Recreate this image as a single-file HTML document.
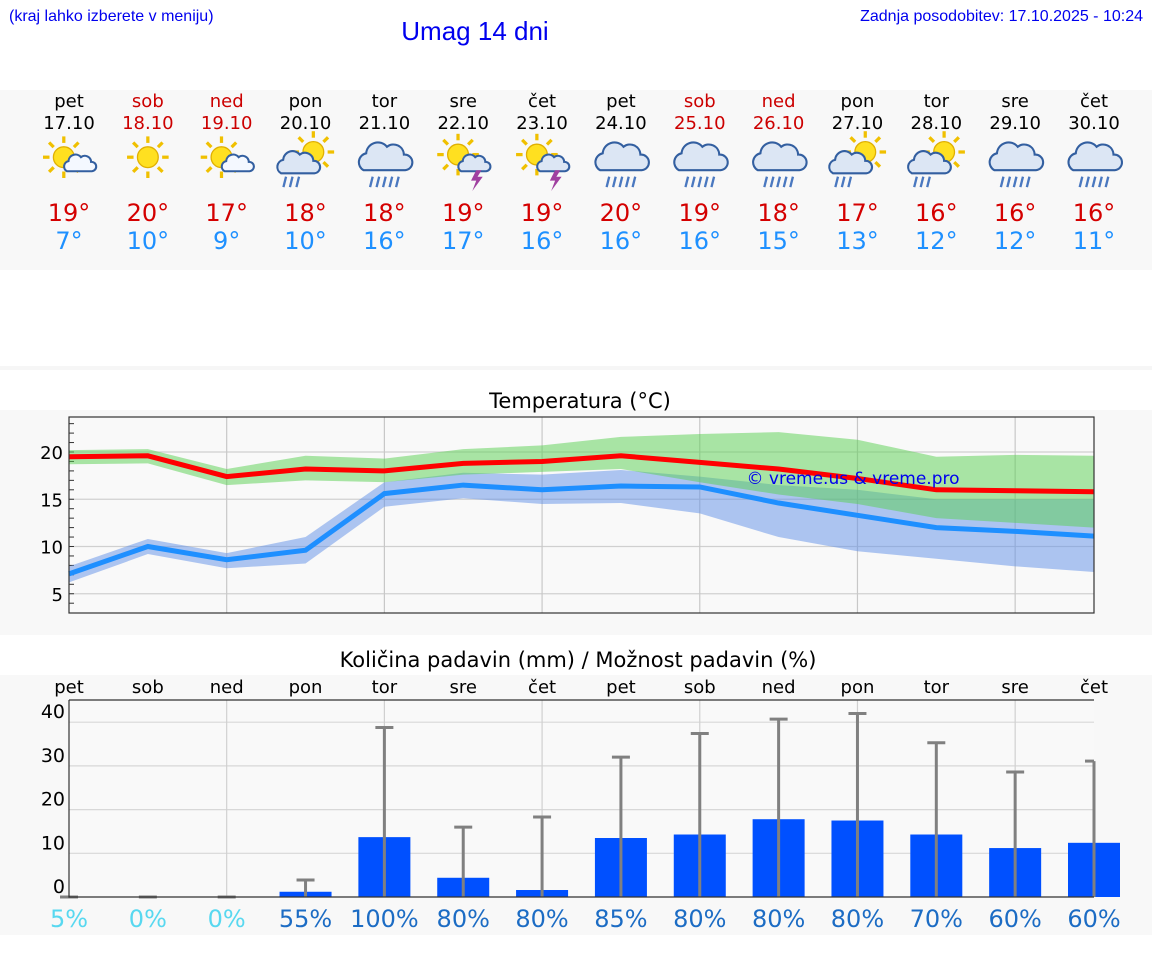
<!DOCTYPE html>
<html><head><meta charset="utf-8"><style>
body{margin:0;background:#fff;width:1152px;height:975px;overflow:hidden;font-family:"DejaVu Sans","Liberation Sans",sans-serif}
svg{display:block}
</style></head><body>
<svg id="s" width="1152" height="975" xmlns="http://www.w3.org/2000/svg">
<rect x="0" y="90" width="1152" height="180" fill="#f8f8f8"/>
<rect x="0" y="366" width="1152" height="4" fill="#f6f6f6"/>
<rect x="0" y="410" width="1152" height="225" fill="#f8f8f8"/>
<rect x="0" y="675" width="1152" height="260" fill="#f8f8f8"/>
<text x="9" y="21" font-family="Liberation Sans, sans-serif" font-size="16" fill="#0000ee">(kraj lahko izberete v meniju)</text>
<text x="475" y="40" text-anchor="middle" font-family="Liberation Sans, sans-serif" font-size="26" fill="#0000ee">Umag 14 dni</text>
<text x="1143" y="21" text-anchor="end" font-family="Liberation Sans, sans-serif" font-size="16" fill="#0000ee">Zadnja posodobitev: 17.10.2025 - 10:24</text>
<text x="580" y="408" text-anchor="middle" font-size="21" fill="#000">Temperatura (°C)</text>
<text x="578" y="667" text-anchor="middle" font-size="21" fill="#000">Količina padavin (mm) / Možnost padavin (%)</text>
<g id="g"></g>
</svg>
<script>
const days=["pet","sob","ned","pon","tor","sre","čet","pet","sob","ned","pon","tor","sre","čet"];
const dates=["17.10","18.10","19.10","20.10","21.10","22.10","23.10","24.10","25.10","26.10","27.10","28.10","29.10","30.10"];
const weekend=[0,1,1,0,0,0,0,0,1,1,0,0,0,0];
const icons=["sunc","sun","sunc","sunrain","rain","thunder","thunder","rain","rain","rain","sunrain","sunrain","rain","rain"];
const tMax=[19,20,17,18,18,19,19,20,19,18,17,16,16,16];
const tMin=[7,10,9,10,16,17,16,16,16,15,13,12,12,11];
const maxLine=[19.5,19.6,17.4,18.2,18.0,18.8,19.0,19.6,18.9,18.2,17.2,16.0,15.9,15.8];
const minLine=[7.1,10.0,8.6,9.6,15.6,16.5,16.0,16.4,16.3,14.6,13.3,12.0,11.6,11.1];
const maxHi=[20.2,20.3,18.2,19.6,19.3,20.3,20.7,21.6,21.9,22.1,21.3,19.5,19.7,19.6];
const maxLo=[18.7,18.8,16.5,17.0,16.8,17.6,17.9,18.2,16.8,15.5,14.5,13.0,12.5,12.0];
const minHi=[7.9,10.8,9.3,11.0,16.8,17.8,17.6,18.1,17.4,16.5,16.0,15.0,15.0,15.0];
const minLo=[6.2,9.2,7.7,8.2,14.2,15.1,14.5,14.6,13.5,11.0,9.5,8.7,7.9,7.3];
const tempTicks=[5,10,15,20];
const rain=[0,0,0,1.2,13.7,4.4,1.6,13.5,14.3,17.8,17.5,14.3,11.2,12.4];
const rainMax=[0,0,0,3.9,38.8,16,18.3,32,37.4,40.7,42,35.3,28.6,31.1];
const prob=[5,0,0,55,100,80,80,85,80,80,80,70,60,60];
const rainTicks=[0,10,20,30,40];

const NS="http://www.w3.org/2000/svg";const G=document.getElementById('g');
function el(t,a,p){const e=document.createElementNS(NS,t);for(const k in a)e.setAttribute(k,a[k]);(p||G).appendChild(e);return e;}
const X=i=>69+i*(1094-69)/13;
const TY=t=>452-(t-20)*9.45;
const RY=v=>897-v*4.37;
days.forEach((d,i)=>{const x=X(i);const c=weekend[i]?"#cc0000":"#000";
let e=el('text',{x:x,y:107,'text-anchor':'middle','font-size':18,fill:c});e.textContent=d;

e=el('text',{x:x,y:129,'text-anchor':'middle','font-size':18,fill:c});e.textContent=dates[i];

e=el('text',{x:x,y:221,'text-anchor':'middle','font-size':24,fill:"#d40000"});e.textContent=tMax[i]+"°";

e=el('text',{x:x,y:249,'text-anchor':'middle','font-size':24,fill:"#1e90ff"});e.textContent=tMin[i]+"°";

const g=el('g',{transform:`translate(${x},165) scale(1.3)`});

const ic=icons[i];
function sun(cx,cy,r){for(let k=0;k<8;k++){const a=k*Math.PI/4;el('line',{x1:cx+Math.cos(a)*(r+3),y1:cy+Math.sin(a)*(r+3),x2:cx+Math.cos(a)*(r+8),y2:cy+Math.sin(a)*(r+8),stroke:"#f0c000",'stroke-width':2.5},g);}el('circle',{cx:cx,cy:cy,r:r,fill:"#ffe020",stroke:"#e0b000",'stroke-width':1},g);}
function cloud(cx,cy,s,fill){const p=`M${cx-16*s},${cy+8*s} a${7*s},${7*s} 0 0 1 ${2*s},-${13*s} a${9*s},${9*s} 0 0 1 ${16*s},-${5*s} a${8*s},${8*s} 0 0 1 ${13*s},${6*s} a${6*s},${6*s} 0 0 1 ${1*s},${12*s} z`;el('path',{d:p,fill:fill,stroke:"#335fa0",'stroke-width':1.6},g);}
function drops(cx,cy,n){for(let k=0;k<n;k++)el('line',{x1:cx-9+k*5,y1:cy,x2:cx-11+k*5,y2:cy+8,stroke:"#4a78c0",'stroke-width':1.8},g);}
if(ic=="sun")sun(0,-6,8);
else if(ic=="sunc"){sun(-4,-6,8);cloud(8,0,0.6,"#f4f8ff");}
else if(ic=="sunrain"){sun(6,-10,8);cloud(-6,0,0.8,"#dce6f4");drops(-6,9,3);}
else if(ic=="thunder"){sun(-4,-8,8);cloud(8,0,0.6,"#dce6f4");el('path',{d:"M10,4 l-4,8 h4 l-3,8 l8,-11 h-4 l3,-5z",fill:"#a040a0"},g);}
else {cloud(0,-4,1.0,"#dce6f4");drops(0,9,5);}
});
el('rect',{x:69,y:417,width:1025,height:196,fill:"#f9f9f9"});
tempTicks.forEach(t=>{el('line',{x1:69,x2:1094,y1:TY(t),y2:TY(t),stroke:"#d0d0d0",'stroke-width':1.2});
const e=el('text',{x:63,y:TY(t)+7,'text-anchor':'end','font-size':18,fill:"#000"});e.textContent=t;
});
for(let t=4;t<=23;t++)el('line',{x1:69,x2:74,y1:TY(t),y2:TY(t),stroke:"#333",'stroke-width':1});
[2,4,6,8,10,12].forEach(i=>el('line',{x1:X(i),x2:X(i),y1:417,y2:613,stroke:"#c8c8c8",'stroke-width':1.2}));
function band(hi,lo,fill,name){let d=hi.map((v,i)=>(i?'L':'M')+X(i)+','+TY(v)).join('')+lo.map((v,i)=>i).reverse().map(i=>'L'+X(i)+','+TY(lo[i])).join('')+'Z';const e=el('path',{d:d,fill:fill,'fill-opacity':0.5});}
band(minHi,minLo,"#6090e8","min-temp-band");
band(maxHi,maxLo,"#58d050","max-temp-band");
function line(a,c,name){const e=el('polyline',{points:a.map((v,i)=>X(i)+','+TY(v)).join(' '),fill:'none',stroke:c,'stroke-width':5});}
line(minLine,"#1e8fff","min-temp-line");line(maxLine,"#ff0000","max-temp-line");
let wm=el('text',{x:853,y:484,'text-anchor':'middle','font-size':17,fill:"#0000ee"});wm.textContent="© vreme.us & vreme.pro";

el('rect',{x:69,y:417,width:1025,height:196,fill:'none',stroke:"#333",'stroke-width':1.2});
el('rect',{x:69,y:700,width:1025,height:197,fill:"#f9f9f9"});
rainTicks.forEach(t=>{if(t>0)el('line',{x1:69,x2:1094,y1:RY(t),y2:RY(t),stroke:"#d8d8d8",'stroke-width':1.2});
const e=el('text',{x:65,y:RY(t)-4,'text-anchor':'end','font-size':19,fill:"#000"});e.textContent=t;
});
[2,4,6,8,10,12].forEach(i=>el('line',{x1:X(i),x2:X(i),y1:700,y2:897,stroke:"#d0d0d0",'stroke-width':1.2}));
days.forEach((d,i)=>{const x=X(i);
let e=el('text',{x:x,y:693,'text-anchor':'middle','font-size':18,fill:"#000"});e.textContent=d;

const h=Math.max(rain[i]*4.37,0);
e=el('rect',{x:x-26,y:RY(rain[i]),width:52,height:h,fill:"#0050ff"});

if(rainMax[i]>0){e=el('line',{x1:x,x2:x,y1:RY(rainMax[i]),y2:897,stroke:"#808080",'stroke-width':3});
}
el('line',{x1:x-9,x2:Math.min(x+9,1094),y1:RY(rainMax[i]),y2:RY(rainMax[i]),stroke:"#808080",'stroke-width':3});
e=el('text',{x:x,y:927,'text-anchor':'middle','font-size':24,fill:prob[i]<50?"#58d8f0":"#1c6cc4"});e.textContent=prob[i]+"%";

});
el('polyline',{points:"69,700 69,897 1094,897",fill:'none',stroke:"#333",'stroke-width':1.2});
el('line',{x1:69,x2:1094,y1:700,y2:700,stroke:"#333",'stroke-width':1.2});
</script>
</body></html>
